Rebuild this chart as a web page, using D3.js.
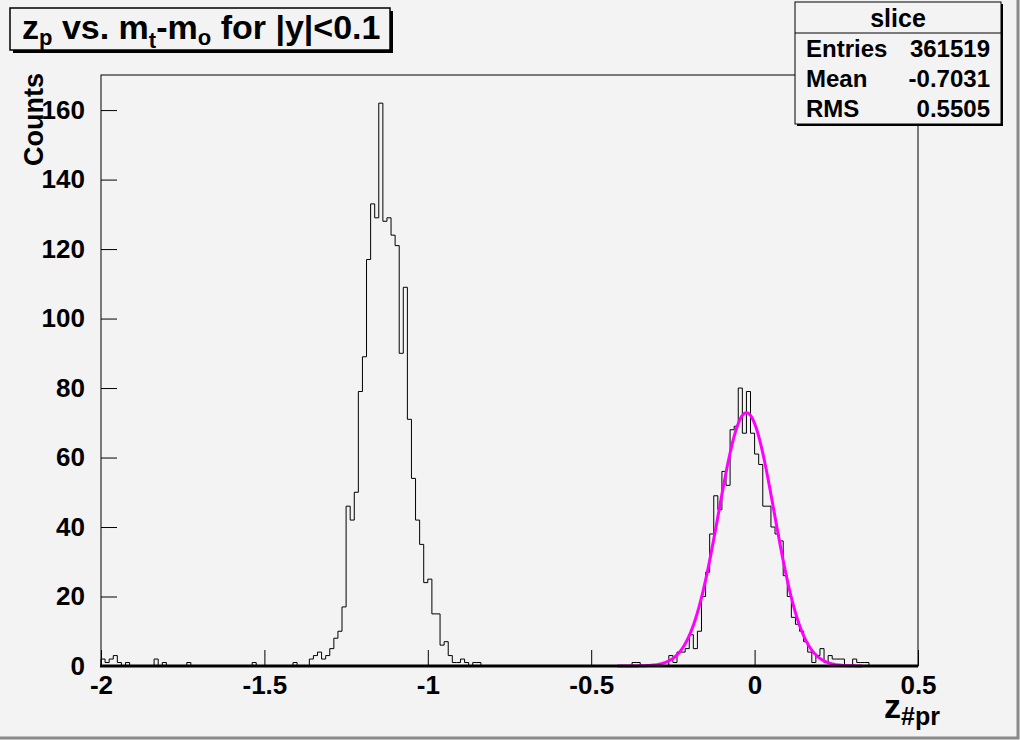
<!DOCTYPE html>
<html>
<head>
<meta charset="utf-8">
<script src="https://cdn.jsdelivr.net/npm/d3@7"></script>
<style>
  body { margin: 0; background: #f3f3f3; }
  svg text { font-family: "Liberation Sans", Arial, sans-serif; font-weight: bold; fill: #000; }
</style>
</head>
<body>
<div id="chart"></div>
<script>
// histogram: 200 bins from -2 to 0.5
var xMin = -2, xMax = 0.5, nBins = 200;
var counts = [
  2, 1, 2, 3, 1, 0, 1, 0, 0, 0,   0, 0, 0, 2, 0, 1, 0, 0, 0, 0,
  0, 1, 0, 0, 0, 0, 0, 0, 0, 0,   0, 0, 0, 0, 0, 0, 0, 1, 0, 0,
  0, 0, 0, 0, 0, 0, 0, 1, 0, 0,   0, 2, 3, 4, 2, 3, 5, 8, 10, 17,
  46, 42, 50, 79, 89, 117, 133, 129, 162, 128,   129, 124, 121, 90, 109, 71, 54, 42, 35, 24,
  25, 15, 15, 6, 7, 3, 1, 1, 2, 1,   0, 1, 1, 0, 0, 0, 0, 0, 0, 0,
  0, 0, 0, 0, 0, 0, 0, 0, 0, 0,   0, 0, 0, 0, 0, 0, 0, 0, 0, 0,
  0, 0, 0, 0, 0, 0, 0, 0, 0, 0,   1, 1, 0, 0, 0, 0, 0, 0, 0, 3,
  1, 4, 4, 5, 9, 5, 10, 20, 27, 38,   49, 45, 56, 52, 68, 69, 80, 67, 79, 67,
  61, 58, 46, 46, 40, 38, 36, 26, 20, 14,   12, 10, 7, 4, 1, 3, 5, 1, 3, 2,
  2, 2, 0, 0, 2, 1, 1, 1, 0, 0,   0, 0, 0, 0, 0, 0, 0, 0, 0, 0
];

// gaussian fit on the right peak
var fitConst = 72.9, fitMean = -0.025, fitSigma = 0.085;
var fitRange = [-0.42, 0.33];

var xTicks = [-2, -1.5, -1, -0.5, 0, 0.5];
var yTicks = [0, 20, 40, 60, 80, 100, 120, 140, 160];
var statRows = [["Entries", "361519"], ["Mean", "-0.7031"], ["RMS", "0.5505"]];

var W = 1020, H = 740;
var fLeft = 101, fRight = 918, fTop = 75, fBottom = 666;

var svg = d3.select('#chart').append('svg')
    .attr('width', W)
    .attr('height', H);

svg.append('rect').attr('width', W).attr('height', H).attr('fill', '#f3f3f3');
// canvas bevel
svg.append('path').attr('d', 'M' + (W - 2) + ',0V' + (H - 2) + 'H0')
    .attr('stroke', '#8a8a8a').attr('stroke-width', 3).attr('fill', 'none');

var x = d3.scaleLinear().domain([xMin, xMax]).range([fLeft, fRight]);
var y = d3.scaleLinear().domain([0, 170.1]).range([fBottom, fTop]);

// frame
svg.append('rect')
    .attr('x', fLeft).attr('y', fTop)
    .attr('width', fRight - fLeft).attr('height', fBottom - fTop)
    .attr('fill', 'none').attr('stroke', '#000').attr('stroke-width', 1);

// histogram contour
var bw = (xMax - xMin) / nBins;
var pts = [[x(xMin), y(0)]];
counts.forEach(function (c, i) {
    pts.push([x(xMin + i * bw), y(c)]);
    pts.push([x(xMin + (i + 1) * bw), y(c)]);
});
pts.push([x(xMax), y(0)]);
svg.append('path')
    .attr('d', d3.line()(pts))
    .attr('fill', 'none')
    .attr('stroke', '#000')
    .attr('stroke-width', 1);

// fit
var fx = d3.range(fitRange[0], fitRange[1] + 1e-9, 0.005);
var fitLine = d3.line()
    .x(function (d) { return x(d); })
    .y(function (d) { return y(fitConst * Math.exp(-0.5 * Math.pow((d - fitMean) / fitSigma, 2))); })
    .curve(d3.curveMonotoneX);
svg.append('path')
    .attr('d', fitLine(fx))
    .attr('fill', 'none')
    .attr('stroke', '#ff00ff')
    .attr('stroke-width', 3);

// axes
var yAxis = d3.axisLeft(y).tickValues(yTicks).tickSize(-16).tickPadding(16)
    .tickFormat(function (d) { return String(d); });
var yMinor = d3.axisLeft(y).tickValues(d3.range(0, 171, 5)).tickSize(-8).tickFormat('');
var gy = svg.append('g').attr('transform', 'translate(' + fLeft + ',0)');
gy.call(yMinor);
gy.call(yAxis);

var xAxis = d3.axisBottom(x).tickValues(xTicks).tickSize(-16).tickPadding(10)
    .tickFormat(function (d) { return String(d); });
var xMinor = d3.axisBottom(x).tickValues(d3.range(-20, 6, 1).map(function (d) { return d / 10; }))
    .tickSize(-9).tickFormat('');
var gx = svg.append('g').attr('transform', 'translate(0,' + fBottom + ')');
gx.call(xMinor);
gx.call(xAxis);

svg.selectAll('.domain').remove();
svg.selectAll('.tick line').attr('stroke', '#000');
svg.selectAll('.tick text').style('font-size', '26px').attr('fill', '#000');
gx.selectAll('.tick text').attr('dy', '0.71em');

svg.append('line')
    .attr('x1', fLeft - 1).attr('x2', fRight).attr('y1', fBottom).attr('y2', fBottom)
    .attr('stroke', '#000').attr('stroke-width', 3);

// axis titles
svg.append('text')
    .attr('transform', 'translate(43,73) rotate(-90)')
    .attr('text-anchor', 'end')
    .style('font-size', '27px')
    .text('Counts');

var xt = svg.append('text')
    .attr('x', 940).attr('y', 718)
    .attr('text-anchor', 'end')
    .style('font-size', '34px');
xt.append('tspan').text('z');
xt.append('tspan').attr('dy', 7).style('font-size', '25px').text('#pr');

// title box
svg.append('rect').attr('x', 13).attr('y', 11).attr('width', 380).attr('height', 42).attr('fill', '#000');
svg.append('rect').attr('x', 10).attr('y', 8).attr('width', 380).attr('height', 42)
    .attr('fill', '#f3f3f3').attr('stroke', '#000').attr('stroke-width', 1.5);
var tt = svg.append('text').attr('x', 22).attr('y', 39).style('font-size', '34px');
tt.append('tspan').text('z');
tt.append('tspan').attr('dy', 6).style('font-size', '22px').text('p');
tt.append('tspan').attr('dy', -6).text(' vs. m');
tt.append('tspan').attr('dy', 9).style('font-size', '22px').text('t');
tt.append('tspan').attr('dy', -9).text('-m');
tt.append('tspan').attr('dy', 6).style('font-size', '22px').text('o');
tt.append('tspan').attr('dy', -6).text(' for |y|<0.1');

// stats box
var sx = 795, sy = 2, sw = 206, sh = 122;
svg.append('rect').attr('x', sx + 2).attr('y', sy + 2).attr('width', sw).attr('height', sh).attr('fill', '#000');
svg.append('rect').attr('x', sx).attr('y', sy).attr('width', sw).attr('height', sh)
    .attr('fill', '#f3f3f3').attr('stroke', '#000').attr('stroke-width', 1);
svg.append('line').attr('x1', sx).attr('x2', sx + sw).attr('y1', 33).attr('y2', 33).attr('stroke', '#000');
svg.append('text').attr('x', sx + sw / 2).attr('y', 27).attr('text-anchor', 'middle')
    .style('font-size', '25px').text('slice');
var rows = svg.selectAll('.srow').data(statRows).enter().append('g').attr('class', 'srow')
    .attr('transform', function (d, i) { return 'translate(0,' + (57 + i * 30) + ')'; });
rows.append('text').attr('x', 806).style('font-size', '24px').text(function (d) { return d[0]; });
rows.append('text').attr('x', 990).attr('text-anchor', 'end').style('font-size', '24px')
    .text(function (d) { return d[1]; });
</script>
</body>
</html>
